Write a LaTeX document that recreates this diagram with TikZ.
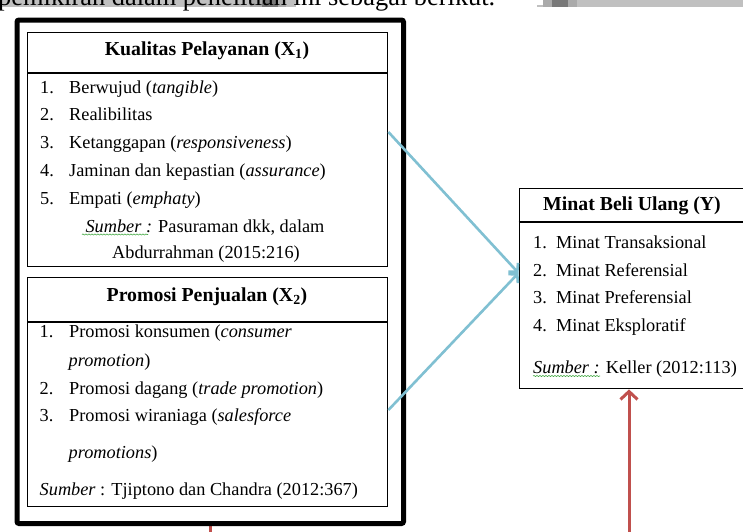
\documentclass[tikz,border=0pt]{standalone}
\usepackage{fontspec}
\setmainfont{Liberation Serif}
\usetikzlibrary{arrows.meta,decorations.pathmorphing}
\definecolor{arrowblue}{RGB}{128,192,210}
\definecolor{arrowred}{RGB}{192,80,77}
\definecolor{squiggle}{RGB}{70,170,70}
\definecolor{hlgray}{RGB}{192,192,192}
\definecolor{midgray}{RGB}{170,170,170}
\definecolor{darkgray}{RGB}{120,120,120}
\begin{document}
\begin{tikzpicture}[x=1pt,y=-1pt,
  boxframe/.style={draw=black, line width=1.4pt, inner sep=0pt, anchor=north west},
  outerframe/.style={draw=black, line width=5pt, rounded corners=2pt, inner sep=0pt, anchor=north west},
  txt/.style={anchor=base west, inner sep=0pt, font=\fontsize{18.3}{22}\selectfont},
  ctxt/.style={anchor=base, inner sep=0pt, font=\fontsize{18.3}{22}\selectfont},
  hdr/.style={anchor=base, inner sep=0pt, font=\fontsize{19.8}{23}\selectfont\bfseries},
  divider/.style={draw=black, line width=1.2pt},
  bluearrow/.style={draw=arrowblue, line width=2.6pt, -{Straight Barb[length=6pt,width=13pt]}},
  redarrow/.style={draw=arrowred, line width=3pt, -{Straight Barb[length=8pt,width=17pt]}},
  redline/.style={draw=arrowred, line width=3pt},
  wavy/.style={draw=squiggle, line width=0.6pt, decorate, decoration={snake, amplitude=0.6pt, segment length=3pt}},
  toptext/.style={anchor=base west, inner sep=0pt, font=\fontsize{26.4}{30}\selectfont}
]
\useasboundingbox (0,0) rectangle (743,531);
\clip (0,0) rectangle (743,531);
\fill[white] (0,0) rectangle (743,531);

% cropped line of running text at the top
\fill[hlgray] (0,0) rectangle (296,7);
\fill[midgray] (250,0) rectangle (262,7);
\fill[darkgray] (262,0) rectangle (278,7);
\fill[midgray] (278,0) rectangle (286,7);
\fill[hlgray] (537,5) rectangle (543,7);
\fill[midgray] (543,0) rectangle (552,7);
\fill[darkgray] (552,0) rectangle (568,7);
\fill[midgray] (568,0) rectangle (577,7);
\fill[hlgray] (577,0) rectangle (743,7);
\node[toptext] (top) at (-2,5.6) {pemikiran dalam penelitian ini sebagai berikut.};

% red stub below the outer frame
\coordinate (stubtop) at (210,524);
\coordinate (stubbot) at (210,540);
\draw[redline] (stubtop) -- (stubbot);

% outer frame and boxes
\node[outerframe, minimum width=386.5pt, minimum height=503.5pt] (outer) at (14.5,17.5) {};
\node[boxframe, minimum width=360pt, minimum height=234pt] (boxX1) at (27,32) {};
\node[boxframe, minimum width=360pt, minimum height=229pt] (boxX2) at (27,277) {};
\node[boxframe, minimum width=227.5pt, minimum height=200pt] (boxY) at (518.5,188) {};
\draw[divider] (boxX1.west |- 0,73) -- (boxX1.east |- 0,73);
\draw[divider] (boxX2.west |- 0,322) -- (boxX2.east |- 0,322);
\draw[divider] (boxY.west |- 0,222) -- (boxY.east |- 0,222);

% X1 contents
\node[hdr] (h1) at (207,55) {Kualitas Pelayanan (X\textsubscript{1})};
\node[txt] (a1n) at (40,93) {1.};
\node[txt] (a1) at (69,93) {Berwujud (\textit{tangible})};
\node[txt] (a2n) at (40,120.5) {2.};
\node[txt] (a2) at (69,120.5) {Realibilitas};
\node[txt] (a3n) at (40,148) {3.};
\node[txt] (a3) at (69,148) {Ketanggapan (\textit{responsiveness})};
\node[txt] (a4n) at (40,176) {4.};
\node[txt] (a4) at (69,176) {Jaminan dan kepastian (\textit{assurance})};
\node[txt] (a5n) at (40,204) {5.};
\node[txt] (a5) at (69,204) {Empati (\textit{emphaty})};
\node[ctxt] (as1) at (205,232) {\textit{Sumber :} Pasuraman dkk, dalam};
\node[ctxt] (as2) at (206,258.5) {Abdurrahman (2015:216)};
\draw[wavy] (82,234.5) -- (148,234.5);

% X2 contents
\node[hdr] (h2) at (207,301.5) {Promosi Penjualan (X\textsubscript{2})};
\node[txt] (b1n) at (39.5,337) {1.};
\node[txt] (b1) at (69,337) {Promosi konsumen (\textit{consumer}};
\node[txt] (b1c) at (68.5,366) {\textit{promotion})};
\node[txt] (b2n) at (39.5,394) {2.};
\node[txt] (b2) at (69,394) {Promosi dagang (\textit{trade promotion})};
\node[txt] (b3n) at (39.5,421.5) {3.};
\node[txt] (b3) at (69,421.5) {Promosi wiraniaga (\textit{salesforce}};
\node[txt] (b3c) at (68.5,458) {\textit{promotions})};
\node[txt] (bs) at (39.5,495) {\textit{Sumber} : Tjiptono dan Chandra (2012:367)};

% Y contents
\node[hdr] (h3) at (632,210.5) {Minat Beli Ulang (Y)};
\node[txt] (c1n) at (533,248) {1.};
\node[txt] (c1) at (556,248) {Minat Transaksional};
\node[txt] (c2n) at (533,276) {2.};
\node[txt] (c2) at (556,276) {Minat Referensial};
\node[txt] (c3n) at (533,303.5) {3.};
\node[txt] (c3) at (556,303.5) {Minat Preferensial};
\node[txt] (c4n) at (533,331) {4.};
\node[txt] (c4) at (556,331) {Minat Eksploratif};
\node[txt] (cs) at (533,373) {\textit{Sumber :} Keller (2012:113)};
\draw[wavy] (533,376) -- (600,376);

% connectors
\coordinate (s1) at (boxX1.east |- 0,132);
\coordinate (s2) at (boxX2.east |- 0,410);
\coordinate (tgt) at (boxY.west |- 0,273);
\draw[bluearrow] (s1) -- (tgt);
\draw[bluearrow] (s2) -- (tgt);
\coordinate (rbot) at (629,540);
\draw[redarrow] (rbot) -- (rbot |- boxY.south);
\end{tikzpicture}
\end{document}
